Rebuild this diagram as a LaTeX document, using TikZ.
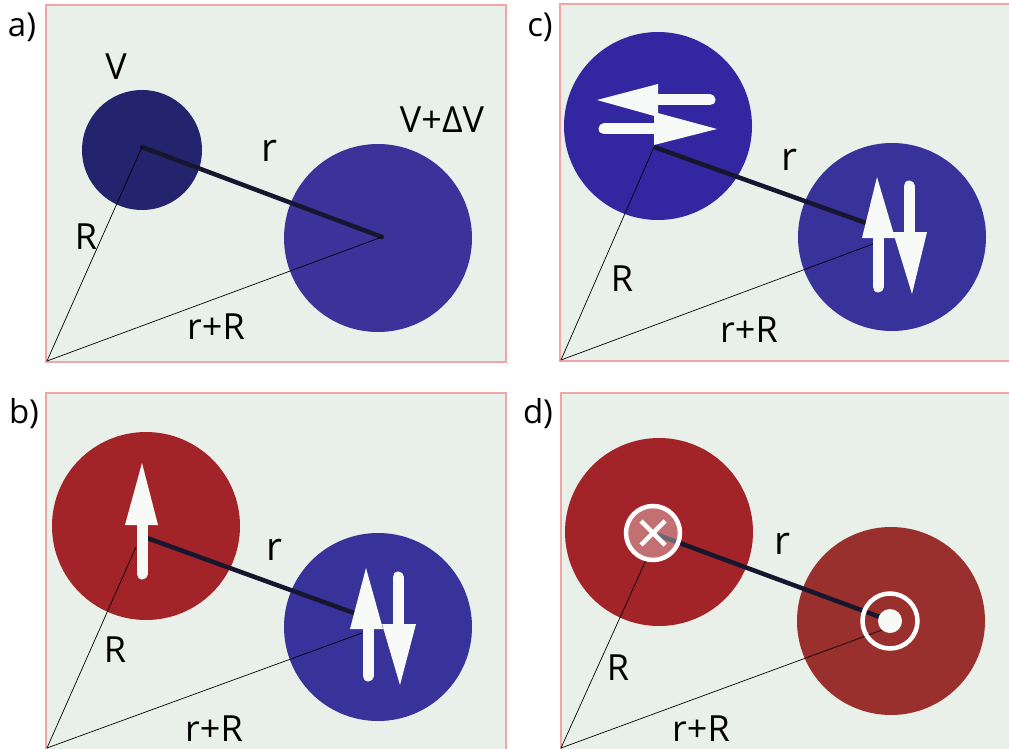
\documentclass[tikz,border=0pt]{standalone}
\usepackage{fontspec}
\setmainfont{Open Sans}
\definecolor{bgc}{HTML}{E8F0E9}
\definecolor{bordc}{HTML}{F0A6A6}
\definecolor{navyA}{HTML}{24246E}
\definecolor{blueA}{HTML}{3B3399}
\definecolor{blueC}{HTML}{3227A1}
\definecolor{blueB}{HTML}{37339A}
\definecolor{redA}{HTML}{A32428}
\definecolor{redB}{HTML}{9A302E}
\definecolor{linkc}{HTML}{16162E}
\definecolor{spinc}{HTML}{F8FAF8}
\begin{document}
\begin{tikzpicture}[x=1pt,y=-1pt,
  panel/.style={fill=bgc,draw=bordc,line width=1.5pt},
  ball/.style={circle,inner sep=0pt,minimum size=#1},
  thicklink/.style={draw=linkc,line width=4.5pt},
  thinlink/.style={draw=black,line width=0.7pt},
  shaft/.style={draw=spinc,line width=11pt,line cap=round},
  headc/.style={fill=spinc},
  lbl/.style={inner sep=0pt,font=\fontsize{36}{38}\selectfont},
  rlbl/.style={inner sep=0pt,font=\fontsize{39}{42}\selectfont},
  vlbl/.style={inner sep=0pt,font=\fontsize{36}{38}\selectfont},
  tag/.style={inner sep=0pt,font=\fontsize{33}{36}\selectfont}]
\useasboundingbox[fill=white] (0,0) rectangle (1009,749);

% ---------- panel a ----------
\draw[panel] (46,5) rectangle (506,362);
\node[tag] (ta) at (22,27) {a)};
\node[ball=120pt,fill=navyA] (a1) at (142,150) {};
\node[ball=188pt,fill=blueA] (a2) at (378,238) {};
\coordinate (a0) at (47,361);
\coordinate (a1c) at (142,147);
\coordinate (a2c) at (382,237);
\draw[thicklink,line cap=round] (a1c) -- (a2c);
\draw[thinlink] (a0) -- (a1c);
\draw[thinlink] (a0) -- (a2c);
\node[vlbl] (aV) at (116,67) {V};
\node[vlbl] (aVd) at (442,120) {V+ΔV};
\node[rlbl] (ar) at (269,151) {r};
\node[lbl] (aR) at (86,237) {R};
\node[lbl] (arR) at (216,327) {r+R};

% ---------- panel c ----------
\draw[panel] (560,4) rectangle (1013,361);
\node[tag] (tc) at (540,27) {c)};
\node[ball=188pt,fill=blueC] (c1) at (658,126) {};
\node[ball=188pt,fill=blueB] (c2) at (892,237) {};
\coordinate (c0) at (561,360);
\coordinate (c1c) at (654,147);
\coordinate (c2c) at (866,223);
\coordinate (c2d) at (873,244);
\draw[thicklink] (c1c) -- (c2c);
\draw[thinlink] (c0) -- (c1c);
\draw[thinlink] (c0) -- (c2d);
% spins in c1
\draw[shaft] (710,100) -- (656,100);
\fill[headc] (597,100) -- (658,84) -- (658,117) -- cycle;
\draw[shaft] (604,129) -- (656,129);
\fill[headc] (717,129) -- (654,112) -- (654,145) -- cycle;
% spins in c2
\draw[shaft] (878,287) -- (878,236);
\fill[headc] (877,177) -- (862,238) -- (895,238) -- cycle;
\draw[shaft] (909,186) -- (909,234);
\fill[headc] (912,294) -- (893,232) -- (927,232) -- cycle;
\node[rlbl] (cr) at (789,160) {r};
\node[lbl] (cR) at (622,279) {R};
\node[lbl] (crR) at (749,330) {r+R};

% ---------- panel b ----------
\draw[panel] (46,393) rectangle (506,752);
\node[tag] (tb) at (24,414) {b)};
\node[ball=188pt,fill=redA] (b1) at (146,526) {};
\node[ball=188pt,fill=blueB] (b2) at (378,627) {};
\coordinate (b0) at (47,748);
\coordinate (b1c) at (147,538);
\coordinate (b1d) at (136,547);
\coordinate (b2c) at (354,613);
\coordinate (b2d) at (362,633);
\draw[thicklink] (b1c) -- (b2c);
\draw[thinlink] (b0) -- (b1d);
\draw[thinlink] (b0) -- (b2d);
\draw[shaft] (142,574) -- (142,523);
\fill[headc] (142,463) -- (125,525) -- (158,525) -- cycle;
\draw[shaft] (368,676) -- (368,627);
\fill[headc] (366,568) -- (350,629) -- (383,629) -- cycle;
\draw[shaft] (398,577) -- (398,626);
\fill[headc] (400,685) -- (382,624) -- (416,624) -- cycle;
\node[rlbl] (br) at (274,550) {r};
\node[lbl] (bR) at (115,650) {R};
\node[lbl] (brR) at (214,729) {r+R};

% ---------- panel d ----------
\draw[panel] (561,393) rectangle (1013,752);
\node[tag] (td) at (538,414) {d)};
\node[ball=188pt,fill=redA] (d1) at (659,532) {};
\node[ball=188pt,fill=redB] (d2) at (891,621) {};
\coordinate (d0) at (561,748);
\coordinate (d1c) at (658,535);
\coordinate (d1d) at (646,560);
\coordinate (d2c) at (880,617);
\coordinate (d2d) at (882,630);
\draw[thicklink] (d1c) -- (d2c);
\draw[thinlink] (d0) -- (d1d);
\draw[thinlink] (d0) -- (d2d);
% cross symbol
\fill[white,opacity=0.35] (653,533) circle (27);
\draw[white,line width=4.5pt] (653,533) circle (27);
\draw[white,line width=4.5pt] (641,521) -- (665,545) (665,521) -- (641,545);
% dot symbol
\draw[white,line width=4.5pt] (890,621) circle (27.5);
\fill[spinc] (890,621) circle (12);
\node[rlbl] (dr) at (782,544) {r};
\node[lbl] (dR) at (618,668) {R};
\node[lbl] (drR) at (701,729) {r+R};
\end{tikzpicture}
\end{document}
